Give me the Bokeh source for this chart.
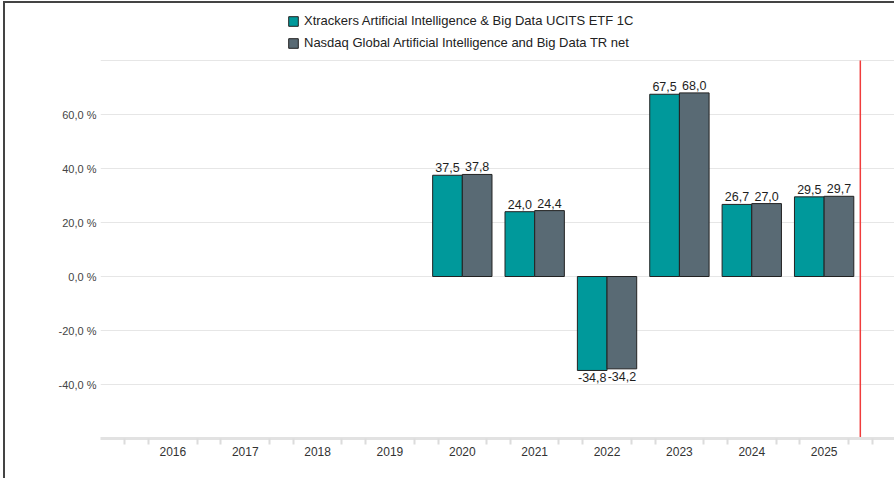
from bokeh.plotting import figure
from bokeh.models import ColumnDataSource, Range1d, FixedTicker, Legend, LegendItem
from bokeh.core.properties import value
from bokeh.embed import file_html
from bokeh.resources import INLINE

years = [2016, 2017, 2018, 2019, 2020, 2021, 2022, 2023, 2024, 2025]
etf = [None, None, None, None, 37.5, 24.0, -34.8, 67.5, 26.7, 29.5]
index = [None, None, None, None, 37.8, 24.4, -34.2, 68.0, 27.0, 29.7]
y_ticks = [-60, -40, -20, 0, 20, 40, 60, 80]
series_names = ["Xtrackers Artificial Intelligence & Big Data UCITS ETF 1C",
                "Nasdaq Global Artificial Intelligence and Big Data TR net"]
marker_year = 2025.5

FONT = "Liberation Sans"
TEAL = "#00999b"
GREY = "#596a74"
BW = 0.41
Y_MIN, Y_TOP_GRID = -60, 80
# extra room above the top gridline holds the legend (frame starts at top of figure)
Y_MAX = Y_TOP_GRID + 57 / 2.7

def fmt(v):
    return f"{v:.1f}".replace(".", ",")

def build(vals, shift):
    xs, tops, labels = [], [], []
    for y, v in zip(years, vals):
        if v is None:
            continue
        xs.append(y + shift)
        tops.append(v)
        labels.append(fmt(v))
    return xs, tops, labels

p = figure(width=891, height=477, output_backend="svg", toolbar_location=None,
           x_range=Range1d(2015.0, 2026.0), y_range=Range1d(Y_MIN, Y_MAX),
           min_border_left=95, min_border_top=0, min_border_right=0, min_border_bottom=42,
           styles={"margin-left": "3px", "margin-top": "1px",
                   "border-left": "2px solid #444444", "border-top": "2px solid #444444"})
p.outline_line_color = None
p.background_fill_color = "white"
p.border_fill_color = "white"

renderers = []
for vals, shift, color in [(etf, -BW / 2, TEAL), (index, BW / 2, GREY)]:
    xs, tops, labels = build(vals, shift)
    src = ColumnDataSource(dict(x=xs, top=tops, label=labels))
    r = p.vbar(x="x", top="top", bottom=0, width=BW, source=src,
               fill_color=color, line_color="#222222", line_width=1)
    renderers.append(r)
    pos = ColumnDataSource(dict(x=[x for x, t in zip(xs, tops) if t >= 0],
                                y=[t for t in tops if t >= 0],
                                t=[l for l, t in zip(labels, tops) if t >= 0]))
    neg = ColumnDataSource(dict(x=[x for x, t in zip(xs, tops) if t < 0],
                                y=[t for t in tops if t < 0],
                                t=[l for l, t in zip(labels, tops) if t < 0]))
    p.text(x="x", y="y", text="t", source=pos, text_align="center", text_baseline="bottom",
           y_offset=-3, text_font=value(FONT), text_font_size="12.5px", text_color="#1e1e1e")
    p.text(x="x", y="y", text="t", source=neg, text_align="center", text_baseline="top",
           y_offset=3, text_font=value(FONT), text_font_size="12.5px", text_color="#1e1e1e")

p.segment(x0=[marker_year], y0=[Y_MIN], x1=[marker_year], y1=[Y_TOP_GRID],
          line_color="#f03c3c", line_width=1.5)

# axes
minor = []
for y in range(2015, 2027):
    minor += [y - 0.335, y + 0.335]
p.xaxis.ticker = FixedTicker(ticks=years, minor_ticks=minor)
p.xaxis.axis_line_color = "#e2e2e2"
p.xaxis.axis_line_width = 3
p.xaxis.major_tick_line_color = None
p.xaxis.major_tick_out = 0
p.xaxis.major_tick_in = 0
p.xaxis.minor_tick_line_color = "#dcdcdc"
p.xaxis.minor_tick_line_width = 2
p.xaxis.minor_tick_out = 6
p.xaxis.minor_tick_in = 0
p.xaxis.major_label_standoff = 2
p.xaxis.major_label_text_font = FONT
p.xaxis.major_label_text_font_size = "12px"
p.xaxis.major_label_text_color = "#333333"
p.xgrid.grid_line_color = None

p.yaxis.ticker = FixedTicker(ticks=y_ticks)
p.yaxis.major_label_overrides = {t: ("" if t in (-60, 80) else fmt(t) + " %") for t in y_ticks}
p.yaxis.axis_line_color = None
p.yaxis.major_tick_line_color = None
p.yaxis.minor_tick_line_color = None
p.yaxis.major_tick_out = 0
p.yaxis.major_tick_in = 0
p.yaxis.major_label_standoff = 4
p.yaxis.major_label_text_font = FONT
p.yaxis.major_label_text_font_size = "11px"
p.yaxis.major_label_text_color = "#444444"
p.ygrid.grid_line_color = "#e6e6e6"
p.ygrid.grid_line_width = 1

legend = Legend(items=[LegendItem(label=series_names[0], renderers=[renderers[0]]),
                       LegendItem(label=series_names[1], renderers=[renderers[1]])],
                location=(187, 388), orientation="vertical", padding=0, margin=0,
                spacing=7, glyph_width=12, glyph_height=12, label_height=15,
                label_standoff=5, label_text_font=FONT, label_text_font_size="13px",
                label_text_color="#222222", border_line_color=None,
                background_fill_alpha=0)
p.add_layout(legend)

open("out.html", "w").write(file_html(p, INLINE))
